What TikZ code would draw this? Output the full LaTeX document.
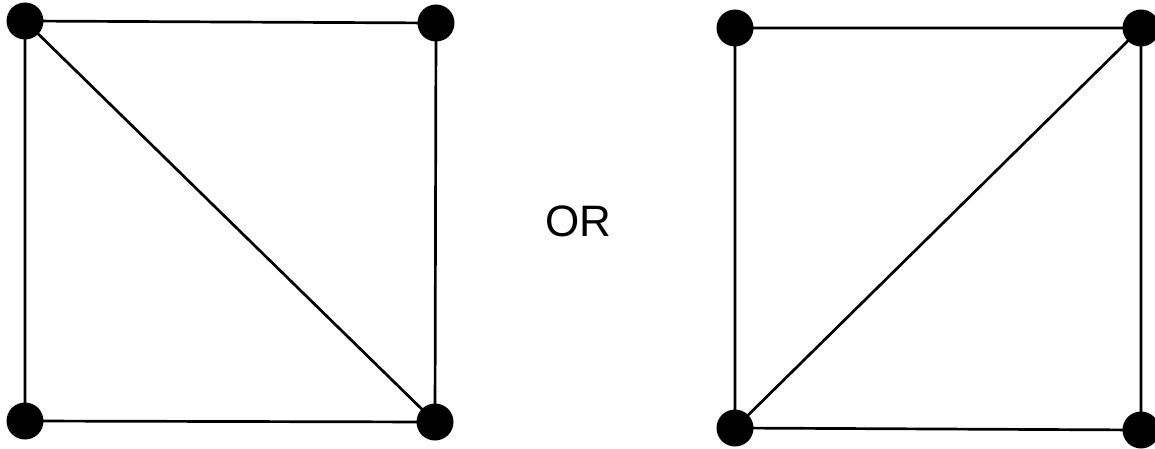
\documentclass[tikz,border=0pt]{standalone}
\usepackage{fontspec}
\setmainfont{Liberation Sans}
\begin{document}
\begin{tikzpicture}[x=1pt,y=-1pt,
  vtx/.style={circle,fill=black,inner sep=0pt,minimum size=37pt},
  edge/.style={line width=2.7pt}]
\useasboundingbox (0,0) rectangle (1155,449);
\node[vtx] (a1) at (25,21) {};
\node[vtx] (a2) at (436,23) {};
\node[vtx] (a3) at (25,421) {};
\node[vtx] (a4) at (435,422) {};
\draw[edge] (a1.center) -- (a2.center) -- (a4.center) -- (a3.center) -- (a1.center);
\draw[edge] (a1.center) -- (a4.center);
\node[vtx] (b1) at (735,28) {};
\node[vtx] (b2) at (1141,28) {};
\node[vtx] (b3) at (735,428) {};
\node[vtx] (b4) at (1141,430) {};
\draw[edge] (b1.center) -- (b2.center) -- (b4.center) -- (b3.center) -- (b1.center);
\draw[edge] (b3.center) -- (b2.center);
\node[font=\fontsize{44}{50}\selectfont, inner sep=0pt] (or) at (578,221) {OR};
\end{tikzpicture}
\end{document}
